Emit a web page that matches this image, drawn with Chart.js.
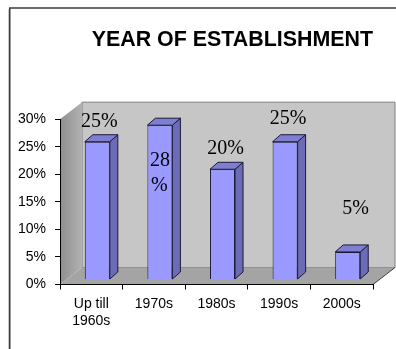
<!DOCTYPE html>
<html>
<head>
<meta charset="utf-8">
<script src="https://cdn.jsdelivr.net/npm/chart.js@4/dist/chart.umd.min.js"></script>
<style>
  html, body { margin: 0; padding: 0; background: #fff; }
  #wrap { width: 396px; height: 349px; }
</style>
</head>
<body>
<div id="wrap"><canvas id="chart" width="396" height="349"></canvas></div>
<script>
// ── Data ──
var categories = [['Up till', '1960s'], '1970s', '1980s', '1990s', '2000s'];
var shares = [25, 28, 20, 25, 5];
var yTicks = [0, 5, 10, 15, 20, 25, 30];

// label placement relative to each bar's front top (hand placed in the original)
var labelOffsets = [
  { dx: 2, dy: -20 },
  { dx: 0, dy: 36, wrap: true },
  { dx: 3, dy: -21 },
  { dx: 3, dy: -23 },
  { dx: 8, dy: -43 }
];

// ── 3D look ──
var WALL_DX = 22, WALL_DY = -17;   // depth of the walls
var BAR_SHIFT_X = 6, BAR_SHIFT_Y = -5;  // bars sit a little inside the box
var BAR_DX = 8, BAR_DY = -7;       // bar depth

var box3d = {
  id: 'box3d',
  beforeDraw: function(chart) {
    var c = chart.ctx, a = chart.chartArea;
    c.save();
    // page frame
    c.strokeStyle = '#c8c8c8'; c.lineWidth = 1;
    c.beginPath(); c.moveTo(8.5, 9); c.lineTo(8.5, 349); c.stroke();
    c.strokeStyle = '#3c3c3c'; c.lineWidth = 1.5;
    c.beginPath(); c.moveTo(9.75, 349); c.lineTo(9.75, 8); c.lineTo(396, 8); c.stroke();

    var L = a.left, R = a.right, T = a.top, B = a.bottom;
    c.lineWidth = 1; c.strokeStyle = '#808080';
    // back wall
    c.fillStyle = '#c6c6c6';
    c.beginPath();
    c.moveTo(L + WALL_DX, T + WALL_DY); c.lineTo(R + WALL_DX, T + WALL_DY);
    c.lineTo(R + WALL_DX, B + WALL_DY); c.lineTo(L + WALL_DX, B + WALL_DY);
    c.closePath(); c.fill(); c.stroke();
    // left wall
    var g = c.createLinearGradient(L, 0, L + WALL_DX, 0);
    g.addColorStop(0, '#8e8e8e'); g.addColorStop(1, '#b2b2b2');
    c.fillStyle = g;
    c.beginPath();
    c.moveTo(L, T); c.lineTo(L + WALL_DX, T + WALL_DY);
    c.lineTo(L + WALL_DX, B + WALL_DY); c.lineTo(L, B);
    c.closePath(); c.fill();
    // floor
    c.fillStyle = '#a4a4a4';
    c.beginPath();
    c.moveTo(L, B); c.lineTo(L + WALL_DX, B + WALL_DY);
    c.lineTo(R + WALL_DX, B + WALL_DY); c.lineTo(R, B);
    c.closePath(); c.fill();
    c.strokeStyle = '#404040';
    c.beginPath(); c.moveTo(R, B); c.lineTo(R + WALL_DX, B + WALL_DY); c.stroke();
    c.restore();
  },
  beforeDatasetsDraw: function(chart) {
    chart.ctx.save();
    chart.ctx.translate(BAR_SHIFT_X, BAR_SHIFT_Y);
  },
  afterDatasetsDraw: function(chart) {
    var c = chart.ctx;
    var bars = chart.getDatasetMeta(0).data;
    c.lineWidth = 1;
    c.strokeStyle = '#1a1a3a';
    bars.forEach(function(bar) {
      var p = bar.getProps(['x', 'y', 'base', 'width'], true);
      var l = p.x - p.width / 2, r = p.x + p.width / 2;
      // side
      c.fillStyle = '#6b6bb6';
      c.beginPath();
      c.moveTo(r, p.y); c.lineTo(r + BAR_DX, p.y + BAR_DY);
      c.lineTo(r + BAR_DX, p.base + BAR_DY); c.lineTo(r, p.base);
      c.closePath(); c.fill(); c.stroke();
      // top
      c.fillStyle = '#7f7fd2';
      c.beginPath();
      c.moveTo(l, p.y); c.lineTo(l + BAR_DX, p.y + BAR_DY);
      c.lineTo(r + BAR_DX, p.y + BAR_DY); c.lineTo(r, p.y);
      c.closePath(); c.fill(); c.stroke();
    });

    // value labels
    c.fillStyle = '#000';
    c.font = '20px "Liberation Serif", "Times New Roman", serif';
    c.textBaseline = 'middle';
    bars.forEach(function(bar, i) {
      var o = labelOffsets[i];
      var txt = shares[i] + '%';
      if (o.wrap) {
        c.textAlign = 'left';
        c.fillText(String(shares[i]), bar.x - 10 + o.dx, bar.y + o.dy);
        c.fillText('%', bar.x - 9 + o.dx, bar.y + o.dy + 25);
      } else {
        c.textAlign = 'center';
        c.fillText(txt, bar.x + o.dx, bar.y + o.dy);
      }
    });
    c.restore();
  }
};

new Chart(document.getElementById('chart'), {
  type: 'bar',
  data: {
    labels: categories,
    datasets: [{
      data: shares,
      backgroundColor: '#9999ff',
      borderColor: '#1a1a3a',
      borderWidth: 1,
      barPercentage: 0.4,
      categoryPercentage: 1
    }]
  },
  options: {
    responsive: false,
    animation: false,
    layout: { padding: { left: 0, right: 23, top: 0, bottom: 0 } },
    plugins: {
      legend: { display: false },
      tooltip: { enabled: false },
      title: {
        display: true,
        text: 'YEAR OF ESTABLISHMENT',
        align: 'end',
        color: '#000',
        font: { family: 'Arial, "Liberation Sans", sans-serif', size: 21.4, weight: 'bold', lineHeight: 1.2 },
        padding: { top: 27, bottom: 66.5 }
      }
    },
    scales: {
      x: {
        grid: { display: true, drawOnChartArea: false, drawTicks: true, tickLength: 5, color: '#000', offset: true },
        border: { color: '#000', width: 1 },
        ticks: {
          color: '#000',
          padding: 6,
          maxRotation: 0,
          autoSkip: false,
          font: { family: 'Arial, "Liberation Sans", sans-serif', size: 14 }
        },
        afterFit: function(s) { s.height = 64.5; }
      },
      y: {
        min: yTicks[0],
        max: yTicks[yTicks.length - 1],
        afterBuildTicks: function(s) { s.ticks = yTicks.map(function(v) { return { value: v }; }); },
        grid: { display: true, drawOnChartArea: false, drawTicks: true, tickLength: 5, color: '#000' },
        border: { color: '#000', width: 1 },
        ticks: {
          color: '#000',
          padding: 9,
          font: { family: 'Arial, "Liberation Sans", sans-serif', size: 14 },
          callback: function(v) { return v + '%'; }
        },
        afterFit: function(s) { s.width = 60; }
      }
    }
  },
  plugins: [box3d]
});
</script>
</body>
</html>
